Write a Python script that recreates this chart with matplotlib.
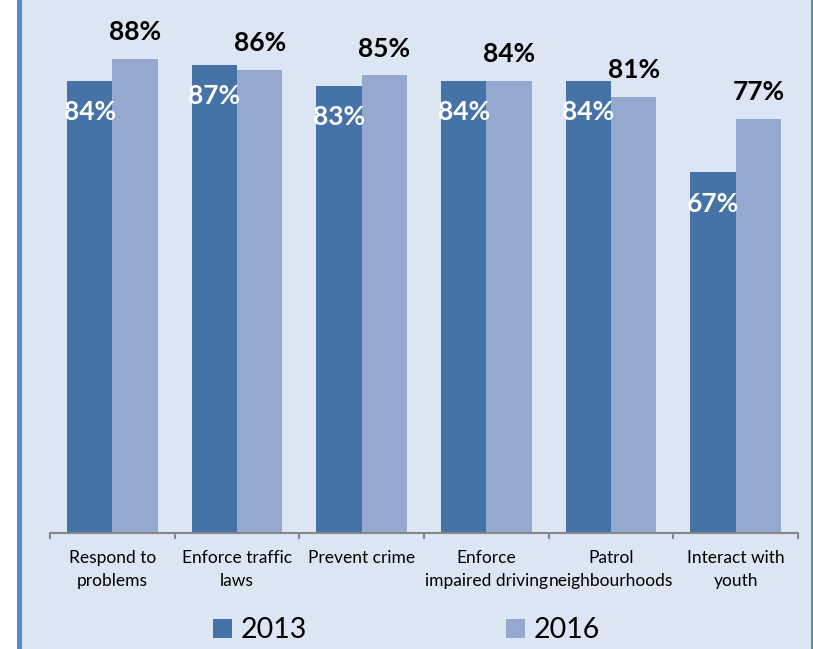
import numpy as np
import matplotlib.pyplot as plt
from matplotlib.patches import Rectangle

categories = ["Respond to\nproblems", "Enforce traffic\nlaws", "Prevent crime",
              "Enforce\nimpaired driving", "Patrol\nneighbourhoods", "Interact with\nyouth"]
vals_2013 = [84, 87, 83, 84, 84, 67]
vals_2016 = [88, 86, 85, 84, 81, 77]

c2013 = "#4572a7"
c2016 = "#95a9d0"
bg = "#dce6f2"
frame = "#5a8ac6"

plt.rcParams["font.family"] = ["Lato", "DejaVu Sans"]

fig = plt.figure(figsize=(8.13, 6.49), dpi=100)
fig.patch.set_facecolor("white")
# panel background and side borders
fig.patches.append(Rectangle((17 / 813, 0), 1, 1, transform=fig.transFigure,
                             facecolor=bg, edgecolor="none", zorder=-3))
fig.patches.append(Rectangle((16.7 / 813, 0), 5.3 / 813, 1, transform=fig.transFigure,
                             facecolor=frame, edgecolor="none", zorder=-2))
fig.patches.append(Rectangle((810.7 / 813, 0), 3 / 813, 1, transform=fig.transFigure,
                             facecolor=frame, edgecolor="none", zorder=-2))

ax = fig.add_axes([50 / 813, 116 / 649, 748 / 813, 538.3 / 649])
ax.set_facecolor("none")

x = np.arange(len(categories))
w = 0.3634
b1 = ax.bar(x - w / 2, vals_2013, w, color=c2013, label="2013")
b2 = ax.bar(x + w / 2, vals_2016, w, color=c2016, label="2016")

for xi, v in zip(x, vals_2013):
    ax.text(xi - w / 2, v - 5.8, f"{v}%", ha="center", va="center",
            color="white", fontsize=19, fontweight="bold")
for xi, v in zip(x, vals_2016):
    ax.text(xi + w / 2, v + 5.0, f"{v}%", ha="center", va="center",
            color="black", fontsize=19, fontweight="bold")

ax.set_xlim(-0.5, len(categories) - 0.5)
ax.set_ylim(0, 100)
ax.set_yticks([])
for s in ["left", "right", "top"]:
    ax.spines[s].set_visible(False)
ax.spines["bottom"].set_color("#868686")
ax.spines["bottom"].set_linewidth(1.5)

ax.set_xticks(np.arange(len(categories) + 1) - 0.5)
ax.set_xticklabels([])
ax.tick_params(axis="x", which="major", length=4.5, width=1.5, color="#868686")
ax.set_xticks(x, minor=True)
ax.set_xticklabels(categories, minor=True, fontsize=12.5, linespacing=1.5)
ax.tick_params(axis="x", which="minor", length=0, pad=12.5)

fig.legend(handles=[b1, b2], loc="center", bbox_to_anchor=(0.5, 0.029),
           ncol=2, frameon=False, fontsize=20.5, handlelength=0.65, handleheight=0.65,
           handletextpad=0.3, columnspacing=7.0, borderpad=0)

fig.savefig("out.png", dpi=100, facecolor=fig.get_facecolor())
